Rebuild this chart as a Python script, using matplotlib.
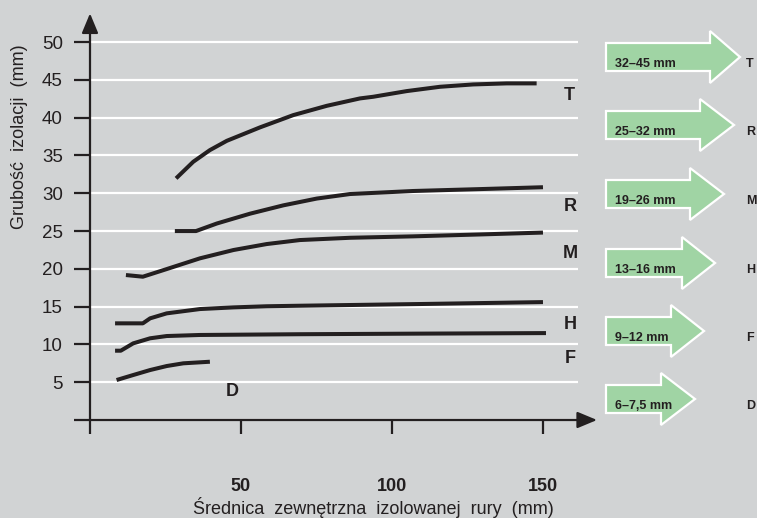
import matplotlib
matplotlib.use('Agg')
import matplotlib.pyplot as plt
from matplotlib.patches import Polygon

plt.rcParams['font.family'] = ['Liberation Sans', 'DejaVu Sans']

# curves: outer pipe diameter (mm) vs insulation thickness (mm)
T_x = [28.5, 34.2, 39.7, 45.3, 56.3, 67.3, 78.4, 89.4, 93.8, 104.9, 115.9, 126.9, 138.0, 147.9]
T_y = [31.97, 34.17, 35.71, 36.94, 38.72, 40.34, 41.57, 42.55, 42.77, 43.52, 44.09, 44.40, 44.54, 44.54]
R_x = [28.1, 35.1, 42.0, 53.0, 64.0, 75.1, 86.1, 107, 129, 150]
R_y = [25.0, 25.0, 26.0, 27.3, 28.4, 29.3, 29.9, 30.3, 30.55, 30.8]
M_x = [11.9, 17.5, 25.4, 36.4, 47.5, 58.5, 69.5, 86.1, 107, 129, 150]
M_y = [19.18, 18.96, 19.97, 21.39, 22.49, 23.28, 23.81, 24.11, 24.3, 24.55, 24.8]
H_x = [8.3, 17.5, 19.9, 25.4, 36.4, 47.5, 58.5, 69.5, 110, 150]
H_y = [12.79, 12.79, 13.45, 14.11, 14.68, 14.9, 15.05, 15.12, 15.35, 15.6]
F_x = [8.3, 10.2, 14.3, 19.9, 25.4, 36.4, 69.5, 110, 151]
F_y = [9.17, 9.17, 10.14, 10.81, 11.11, 11.25, 11.35, 11.43, 11.5]
D_x = [8.8, 14.3, 19.9, 25.4, 30.9, 39.7]
D_y = [5.29, 5.95, 6.61, 7.14, 7.5, 7.71]

classes = ['T', 'R', 'M', 'H', 'F', 'D']
ranges = ['32–45 mm', '25–32 mm', '19–26 mm', '13–16 mm', '9–12 mm', '6–7,5 mm']
x_ticks = [0, 50, 100, 150]
x_labels = ['', '50', '100', '150']
y_ticks = [0, 5, 10, 15, 20, 25, 30, 35, 40, 45, 50]
y_labels = [''] + [str(v) for v in y_ticks[1:]]

W, H = 757, 518
bg = '#d1d3d4'
ink = '#231f20'
green = '#a0d4a4'

fig = plt.figure(figsize=(W / 100, H / 100), dpi=100, facecolor=bg)
ax = fig.add_axes([90 / W, 98 / H, 488 / W, 393 / H], facecolor=bg)
ax.set_xlim(0, 161.6)
ax.set_ylim(0, 52)
for s in ax.spines.values():
    s.set_visible(False)

ax.set_axisbelow(True)
ax.grid(axis='y', color='white', lw=1.6)
ax.set_xticks(x_ticks, x_labels, fontsize=13, fontweight='bold', color=ink)
ax.set_yticks(y_ticks, y_labels, fontsize=13.5, color=ink)
ax.tick_params(axis='y', direction='out', length=11.5, width=1.6, color=ink, pad=8)
ax.tick_params(axis='x', direction='out', length=10, width=1.6, color=ink, pad=32)

# axis lines with arrows
arr = dict(arrowstyle='-|>,head_length=1.2,head_width=0.5', lw=1.6, color=ink,
           shrinkA=0, shrinkB=0, mutation_scale=10)
ax.annotate('', xy=(0, 53.8), xytext=(0, 0), arrowprops=arr, annotation_clip=False)
ax.annotate('', xy=(167.9, 0), xytext=(0, 0), arrowprops=arr, annotation_clip=False)

curves = [(T_x, T_y), (R_x, R_y), (M_x, M_y), (H_x, H_y), (F_x, F_y), (D_x, D_y)]
for cx, cy in curves:
    ax.plot(cx, cy, color=ink, lw=2.9, solid_capstyle='butt',
            solid_joinstyle='round', clip_on=False)

label_pos = {'T': (158.6, 43.0), 'R': (159, 28.2), 'M': (159, 22.0),
             'H': (159, 12.6), 'F': (159, 8.2), 'D': (47, 3.8)}
for c in classes:
    ax.text(*label_pos[c], c, fontsize=13, fontweight='bold', color=ink,
            ha='center', va='center', clip_on=False)

fig.text(373 / W, 1 - 508 / H, 'Średnica  zewnętrzna  izolowanej  rury  (mm)',
         fontsize=13, color=ink, ha='center', va='center')
fig.text(20 / W, 1 - 137 / H, 'Grubość  izolacji  (mm)', rotation=90,
         fontsize=13, color=ink, ha='center', va='center')


def px(x, y):
    return (x / W, 1 - y / H)


# green range arrows (pixel layout)
tip_y = [57, 125, 194, 263, 331, 399]
head_x = [710, 700, 690, 682, 671, 661]
tip_x = [740, 734, 724, 715, 704, 695]
for i, c in enumerate(classes):
    ty, hx, tx = tip_y[i], head_x[i], tip_x[i]
    pts = [px(606, ty - 14), px(hx, ty - 14), px(hx, ty - 26), px(tx, ty),
           px(hx, ty + 26), px(hx, ty + 14), px(606, ty + 14)]
    fig.patches.append(Polygon(pts, closed=True, facecolor=green, edgecolor='white',
                               lw=1.6, transform=fig.transFigure))
    fig.text(*px(615, ty + 7), ranges[i], fontsize=9, fontweight='bold', color=ink,
             ha='left', va='center')
    fig.text(*px(746, ty + 7), c, fontsize=9, fontweight='bold', color=ink,
             ha='left', va='center')

fig.savefig('out.png', dpi=100, facecolor=bg)
